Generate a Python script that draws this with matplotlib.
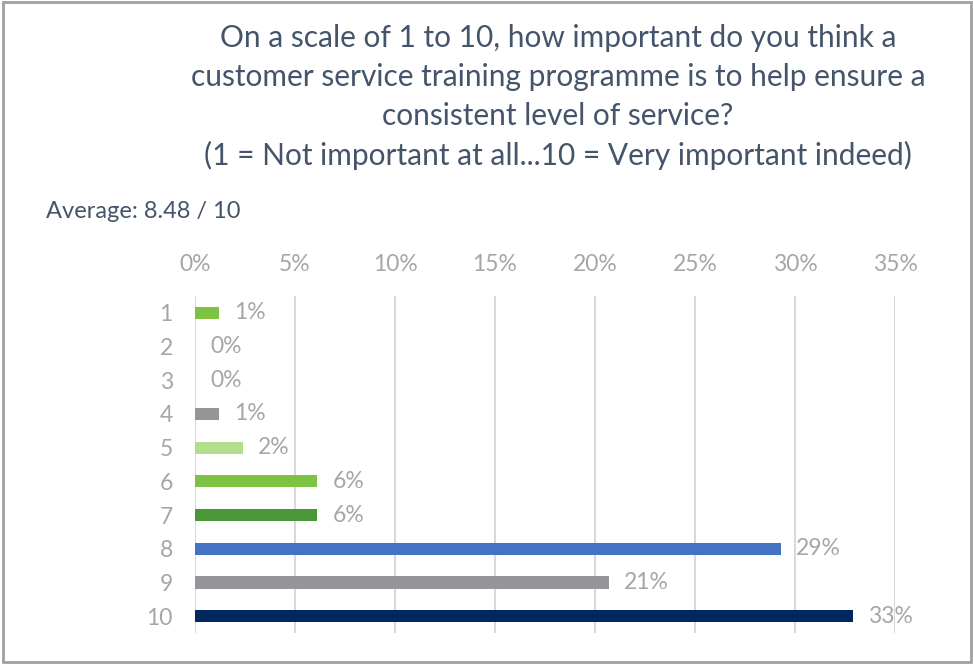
import matplotlib.pyplot as plt
from matplotlib.patches import Rectangle

# Survey answers on a 1-10 scale, share of respondents in percent
scores = ["1", "2", "3", "4", "5", "6", "7", "8", "9", "10"]
shares = [1.2, 0.0, 0.0, 1.2, 2.4, 6.1, 6.1, 29.3, 20.7, 32.9]
bar_colors = ["#7DC243", "#7DC243", "#7DC243", "#939598", "#B1DD8C",
              "#7DC243", "#4A9638", "#4472C4", "#939598", "#00285F"]
x_ticks = [0, 5, 10, 15, 20, 25, 30, 35]

title_lines = [
    "On a scale of 1 to 10, how important do you think a",
    "customer service training programme is to help ensure a",
    "consistent level of service?",
    "(1 = Not important at all...10 = Very important indeed)",
]
average_text = "Average: 8.48 / 10"

plt.rcParams['font.family'] = ['Lato', 'DejaVu Sans']
grey_text = "#A6A6A6"
title_color = "#44546A"

W, H = 973, 664
fig = plt.figure(figsize=(W / 100, H / 100), dpi=100)
ax = fig.add_axes([195 / W, 1 - 633 / H, 700 / W, 337 / H])

ypos = range(len(scores))
ax.barh(ypos, shares, height=0.36, color=bar_colors, zorder=3)

for y, v in zip(ypos, shares):
    ax.annotate(f"{v:.0f}%", (v, y), xytext=(11, 0), textcoords="offset points",
                va="center", ha="left", fontsize=16.5, color=grey_text)

ax.set_xlim(0, 35)
ax.set_ylim(len(scores) - 0.5, -0.5)
ax.set_yticks(list(ypos))
ax.set_yticklabels(scores)
ax.set_xticks(x_ticks)
ax.set_xticklabels([f"{t}%" for t in x_ticks])
ax.xaxis.tick_top()
ax.tick_params(axis="x", length=0, pad=15, labelsize=16.5, labelcolor=grey_text)
ax.tick_params(axis="y", length=0, pad=16, labelsize=16.5, labelcolor=grey_text)
for s in ax.spines.values():
    s.set_visible(False)
ax.grid(axis="x", color="#D9D9D9", linewidth=1.5, zorder=0)
ax.set_axisbelow(True)

fig.text(558 / W, 1 - 97 / H, "\n".join(title_lines), ha="center", va="center",
         fontsize=21.5, color=title_color, linespacing=1.47)
fig.text(46 / W, 1 - 212 / H, average_text, ha="left", va="center",
         fontsize=17, color=title_color)

# thin grey frame round the whole chart
fig.patches.append(Rectangle((2.5 / W, 2 / H), (W - 4.5) / W, (H - 4) / H,
                             transform=fig.transFigure, fill=False,
                             edgecolor="#A0A0A0", linewidth=2))

fig.savefig("out.png", dpi=100)
